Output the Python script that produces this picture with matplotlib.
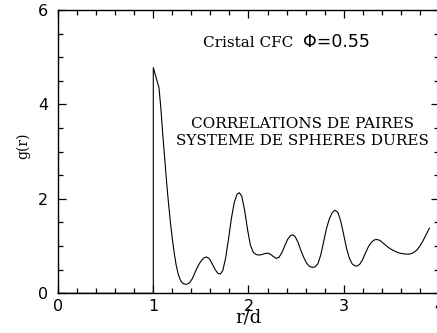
import numpy as np
import matplotlib
matplotlib.use("Agg")
import matplotlib.pyplot as plt
from matplotlib.ticker import MultipleLocator

# g(r) pour un cristal CFC de spheres dures, fraction volumique 0.55
r = [0.0, 1.000, 1.000, 1.060, 1.080, 1.100, 1.120, 1.140, 1.160, 1.180, 1.200,
     1.220, 1.240, 1.260, 1.280, 1.300, 1.320, 1.350, 1.380, 1.410, 1.440,
     1.470, 1.500, 1.530, 1.560, 1.590, 1.620, 1.650, 1.680, 1.705, 1.730,
     1.760, 1.790, 1.820, 1.850, 1.880, 1.905, 1.930, 1.960, 1.990, 2.020,
     2.050, 2.080, 2.110, 2.140, 2.170, 2.200, 2.230, 2.260, 2.290, 2.320,
     2.350, 2.380, 2.410, 2.440, 2.465, 2.490, 2.520, 2.550, 2.580, 2.610,
     2.640, 2.670, 2.700, 2.730, 2.760, 2.790, 2.820, 2.850, 2.880, 2.910,
     2.940, 2.970, 3.000, 3.030, 3.060, 3.090, 3.120, 3.145, 3.170, 3.200,
     3.230, 3.260, 3.290, 3.320, 3.350, 3.380, 3.410, 3.440, 3.470, 3.500,
     3.530, 3.560, 3.590, 3.620, 3.650, 3.680, 3.710, 3.740, 3.770, 3.800,
     3.830, 3.860, 3.900]
g = [0.00, 0.00, 4.78, 4.35, 3.90, 3.35, 2.85, 2.35, 1.90, 1.50, 1.15,
     0.85, 0.60, 0.42, 0.30, 0.23, 0.20, 0.19, 0.22, 0.31, 0.45,
     0.58, 0.68, 0.75, 0.77, 0.73, 0.62, 0.50, 0.42, 0.41, 0.48,
     0.75, 1.15, 1.58, 1.92, 2.10, 2.13, 2.05, 1.75, 1.35, 1.02,
     0.87, 0.82, 0.81, 0.82, 0.84, 0.85, 0.83, 0.78, 0.74, 0.76,
     0.86, 1.00, 1.14, 1.22, 1.24, 1.20, 1.08, 0.91, 0.76, 0.64,
     0.57, 0.55, 0.56, 0.63, 0.82, 1.10, 1.38, 1.58, 1.71, 1.76,
     1.71, 1.52, 1.24, 0.95, 0.74, 0.62, 0.58, 0.58, 0.62, 0.72,
     0.86, 0.99, 1.08, 1.13, 1.14, 1.12, 1.07, 1.02, 0.97, 0.93,
     0.90, 0.87, 0.85, 0.84, 0.83, 0.83, 0.84, 0.87, 0.92, 1.00,
     1.10, 1.22, 1.38]

serif = "DejaVu Serif"
sans = "DejaVu Sans"

fig = plt.figure(figsize=(4.37, 3.33), dpi=100)
ax = fig.add_axes([58.1 / 437, 39.7 / 333, 380.8 / 437, 283.3 / 333])

ax.plot(r, g, color="black", lw=0.8, clip_on=False)
ax.set_xlim(0, 4)
ax.set_ylim(0, 6)

ax.xaxis.set_major_locator(MultipleLocator(1))
ax.xaxis.set_minor_locator(MultipleLocator(0.2))
ax.yaxis.set_major_locator(MultipleLocator(2))
ax.yaxis.set_minor_locator(MultipleLocator(0.5))
ax.tick_params(which="both", direction="in", top=True, right=True, width=0.9)
ax.tick_params(which="major", length=6)
ax.tick_params(which="minor", length=3.5)
ax.tick_params(axis="x", pad=4)
ax.tick_params(axis="y", pad=7)
for lab in ax.get_xticklabels() + ax.get_yticklabels():
    lab.set_fontfamily(sans)
    lab.set_fontsize(11.5)
for s in ax.spines.values():
    s.set_linewidth(1.0)

ax.set_xlabel("r/d", fontfamily=serif, fontsize=13)
ax.xaxis.set_label_coords((248 - 58.1) / 380.8, -0.086)
ax.xaxis.label.set_va("center")
ax.set_ylabel("g(r)", fontfamily=serif, fontsize=10)
ax.yaxis.set_label_coords(-0.092, 0.52)
ax.yaxis.label.set_va("center")

ax.text(1.519, 5.225, "Cristal CFC", fontfamily=serif, fontsize=11,
        ha="left", va="baseline")
ax.text(2.572, 5.225, "\u03a6=0.55", fontfamily=sans, fontsize=12.5,
        ha="left", va="baseline")

ax.text(2.565, 3.496, "CORRELATIONS DE PAIRES", fontfamily=serif,
        fontsize=11, ha="center", va="baseline")
ax.text(2.565, 3.142, "SYSTEME DE SPHERES DURES", fontfamily=serif,
        fontsize=11, ha="center", va="baseline")

fig.savefig("out.png", dpi=100)
